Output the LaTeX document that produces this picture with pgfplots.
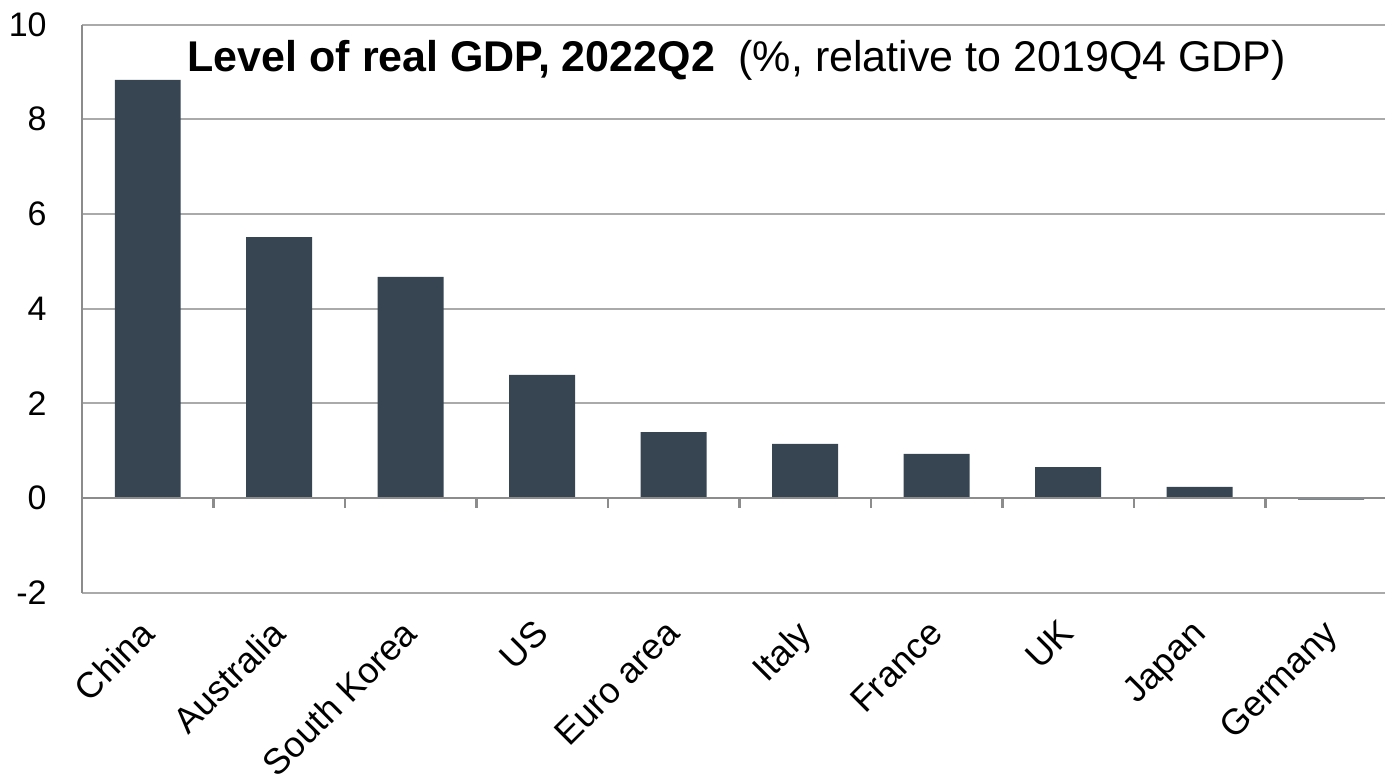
\documentclass[border=0pt]{standalone}
\usepackage{pgfplots}
\pgfplotsset{compat=1.18}
\usepackage{fontspec}
\setmainfont{Liberation Sans}
\definecolor{barc}{RGB}{54,69,81}
\definecolor{gridc}{RGB}{170,170,170}
\definecolor{axisc}{RGB}{140,140,140}
\begin{document}
\begin{tikzpicture}
\begin{axis}[
 x=65.75pt, y=23.667pt,
 xmin=-0.5, xmax=9.41, ymin=-2, ymax=10,
 axis line style={draw=none},
 ytick={-2,0,...,10},
 ymajorgrids, grid style={gridc, line width=1pt},
 major tick length=0pt,
 xtick={0,...,9},
 xticklabels={China,Australia,South Korea,US,Euro area,Italy,France,UK,Japan,Germany},
 xticklabel style={xshift=-5pt, yshift=-12.5pt, rotate=45, anchor=north east, inner sep=0pt, font=\fontsize{18}{22}\selectfont},
 yticklabel style={anchor=east, inner sep=0pt, xshift=-17.5pt, font=\fontsize{17}{20}\selectfont},
 /pgf/number format/assume math mode=true,
 clip=false,
]
\addplot[ybar, bar width=33pt, fill=barc, draw=none] coordinates {
(0,8.83) (1,5.51) (2,4.67) (3,2.60) (4,1.39) (5,1.14) (6,0.93) (7,0.65) (8,0.23) (9,-0.04)};
\draw[axisc, line width=1.2pt] (axis cs:-0.5,-2) -- (axis cs:-0.5,10);
\draw[axisc, line width=1.2pt] (axis cs:-0.5,0) -- (axis cs:9.41,0);
\draw[axisc, line width=1.2pt] (axis cs:0.5,0) -- (axis cs:0.5,-0.21);
\draw[axisc, line width=1.2pt] (axis cs:1.5,0) -- (axis cs:1.5,-0.21);
\draw[axisc, line width=1.2pt] (axis cs:2.5,0) -- (axis cs:2.5,-0.21);
\draw[axisc, line width=1.2pt] (axis cs:3.5,0) -- (axis cs:3.5,-0.21);
\draw[axisc, line width=1.2pt] (axis cs:4.5,0) -- (axis cs:4.5,-0.21);
\draw[axisc, line width=1.2pt] (axis cs:5.5,0) -- (axis cs:5.5,-0.21);
\draw[axisc, line width=1.2pt] (axis cs:6.5,0) -- (axis cs:6.5,-0.21);
\draw[axisc, line width=1.2pt] (axis cs:7.5,0) -- (axis cs:7.5,-0.21);
\draw[axisc, line width=1.2pt] (axis cs:8.5,0) -- (axis cs:8.5,-0.21);
\node[anchor=base west, inner sep=0pt, font=\fontsize{21.5}{25}\selectfont] at (axis cs:0.300,9.018) {\textbf{Level of real GDP, 2022Q2}\hspace{0.55em}(\%, relative to 2019Q4 GDP)};
\coordinate (bl) at (axis cs:-1.1236,-6.035);
\coordinate (tr) at (axis cs:9.409,10.518);
\end{axis}
\pgfresetboundingbox
\path[use as bounding box] (bl) rectangle (tr);
\end{tikzpicture}
\end{document}
